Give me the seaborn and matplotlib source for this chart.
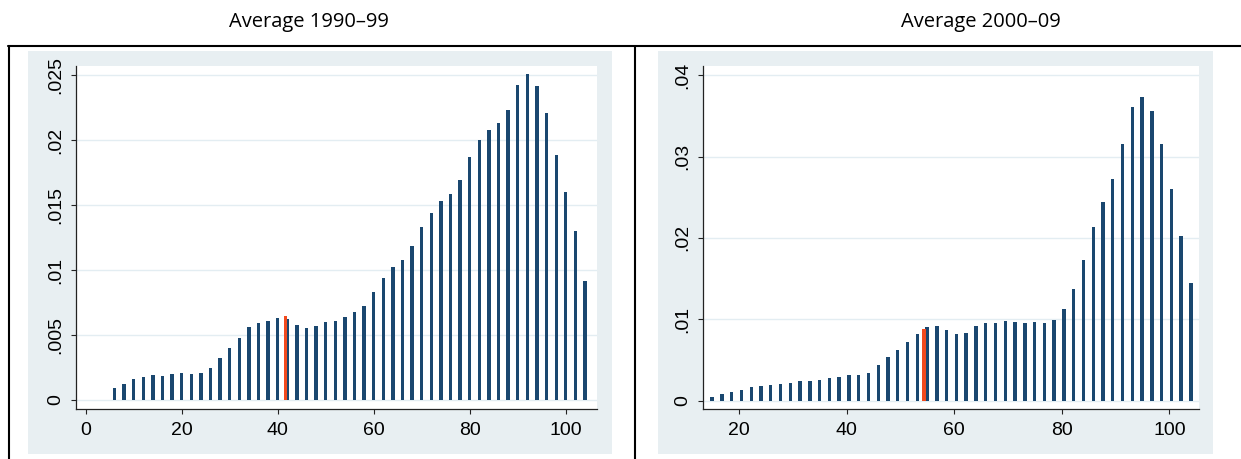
import numpy as np
import pandas as pd
import matplotlib
matplotlib.use("Agg")
import matplotlib.pyplot as plt
from matplotlib.patches import Rectangle
from matplotlib.lines import Line2D
import seaborn as sns

# ---------------- data ----------------
titles = ["Average 1990\u201399", "Average 2000\u201309"]

left_x = [6, 8, 10, 12, 14, 16, 18, 20, 22, 24, 26, 28, 30, 32, 34, 36, 38, 40, 42, 44,
          46, 48, 50, 52, 54, 56, 58, 60, 62, 64, 66, 68, 70, 72, 74, 76, 78, 80, 82, 84,
          86, 88, 90, 92, 94, 96, 98, 100, 102, 104]
left_y = [0.00095, 0.00123, 0.00159, 0.00179, 0.00192, 0.00187, 0.00203, 0.00210, 0.00197, 0.00205,
          0.00244, 0.00323, 0.00403, 0.00474, 0.00559, 0.00590, 0.00610, 0.00633, 0.00623, 0.00580,
          0.00556, 0.00569, 0.00602, 0.00605, 0.00638, 0.00674, 0.00726, 0.00831, 0.00936, 0.01023,
          0.01077, 0.01187, 0.01328, 0.01436, 0.01531, 0.01587, 0.01695, 0.01869, 0.02003, 0.02077,
          0.02128, 0.02233, 0.02423, 0.02505, 0.02415, 0.02210, 0.01885, 0.01597, 0.01302, 0.00918]
left_mark_x = [41.6]
left_mark_y = [0.00644]
left_yticks = [0, 0.005, 0.01, 0.015, 0.02, 0.025]
left_yticklabels = ["0", ".005", ".01", ".015", ".02", ".025"]
left_xticks = [0, 20, 40, 60, 80, 100]

right_x = [15.0, 16.82, 18.63, 20.45, 22.27, 24.08, 25.90, 27.71, 29.53, 31.35,
           33.16, 34.98, 36.80, 38.61, 40.43, 42.24, 44.06, 45.88, 47.69, 49.51,
           51.33, 53.14, 54.96, 56.78, 58.59, 60.41, 62.22, 64.04, 65.86, 67.67,
           69.49, 71.31, 73.12, 74.94, 76.76, 78.57, 80.39, 82.20, 84.02, 85.84,
           87.65, 89.47, 91.29, 93.10, 94.92, 96.73, 98.55, 100.37, 102.18, 104.0]
right_y = [0.00049, 0.00078, 0.00110, 0.00135, 0.00164, 0.00176, 0.00197, 0.00209, 0.00221, 0.00242,
           0.00238, 0.00254, 0.00283, 0.00295, 0.00316, 0.00312, 0.00344, 0.00439, 0.00540, 0.00623,
           0.00725, 0.00820, 0.00909, 0.00918, 0.00869, 0.00820, 0.00828, 0.00914, 0.00958, 0.00955,
           0.00983, 0.00970, 0.00955, 0.00963, 0.00958, 0.00995, 0.01123, 0.01376, 0.01725, 0.02134,
           0.02445, 0.02720, 0.03154, 0.03612, 0.03735, 0.03563, 0.03150, 0.02600, 0.02027, 0.01442]
right_mark_x = [54.4]
right_mark_y = [0.00885]
right_yticks = [0, 0.01, 0.02, 0.03, 0.04]
right_yticklabels = ["0", ".01", ".02", ".03", ".04"]
right_xticks = [20, 40, 60, 80, 100]

# ---------------- style ----------------
sns.set_style("white")
plt.rcParams["font.family"] = ["Liberation Sans", "DejaVu Sans"]

BAR = "#1a476f"
MARK = "#f24a1e"
REGION = "#e8eff2"
GRID = "#e3edf2"

W, H = 1241, 459
fig = plt.figure(figsize=(W / 100, H / 100), dpi=100, facecolor="white")


def fx(px):
    return px / W


def fy(py):
    return 1 - py / H


# graph region backgrounds
for x0, x1 in [(28, 612), (658, 1213)]:
    fig.patches.append(Rectangle((fx(x0), fy(454)), fx(x1 - x0), (454 - 51) / H,
                                 transform=fig.transFigure, facecolor=REGION,
                                 edgecolor="none", zorder=-5))

# black frame lines
lw = 1.5
fig.lines.append(Line2D([fx(8), 1.0], [fy(45.5), fy(45.5)], transform=fig.transFigure,
                        color="black", lw=lw, zorder=-4))
fig.lines.append(Line2D([fx(8.7), fx(8.7)], [fy(45.5), 0], transform=fig.transFigure,
                        color="black", lw=lw, zorder=-4))
fig.lines.append(Line2D([fx(635), fx(635)], [fy(45.5), 0], transform=fig.transFigure,
                        color="black", lw=lw, zorder=-4))

# titles
fig.text(fx(309), fy(22), titles[0], ha="center", va="center", fontsize=14.5,
         family=["Open Sans", "DejaVu Sans"], color="black")
fig.text(fx(981), fy(22), titles[1], ha="center", va="center", fontsize=14.5,
         family=["Open Sans", "DejaVu Sans"], color="black")

panels = [
    dict(rect=(76, 597), x=left_x, y=left_y, mx=left_mark_x, my=left_mark_y,
         yt=left_yticks, ytl=left_yticklabels, xt=left_xticks,
         xlim=(-2.0, 106.5), ylim=(-0.00069, 0.02569), w=0.35, mw=0.7),
    dict(rect=(703, 1199), x=right_x, y=right_y, mx=right_mark_x, my=right_mark_y,
         yt=right_yticks, ytl=right_yticklabels, xt=right_xticks,
         xlim=(13.3, 105.5), ylim=(-0.00102, 0.04112), w=0.35, mw=0.62),
]

for p in panels:
    x0, x1 = p["rect"]
    ax = fig.add_axes([fx(x0), fy(409), fx(x1 - x0), (409 - 66) / H])
    ax.set_zorder(1)
    ax.set_facecolor("white")
    df = pd.DataFrame({"x": p["x"], "y": p["y"]})
    sns.barplot(data=df, x="x", y="y", native_scale=True, width=p["w"],
                color=BAR, saturation=1, errorbar=None, linewidth=0, ax=ax, zorder=3)
    dm = pd.DataFrame({"x": p["mx"], "y": p["my"]})
    sns.barplot(data=dm, x="x", y="y", native_scale=True, width=p["mw"],
                color=MARK, saturation=1, errorbar=None, linewidth=0, ax=ax, zorder=4)
    ax.set_xlim(*p["xlim"])
    ax.set_ylim(*p["ylim"])
    ax.set_xticks(p["xt"])
    ax.set_xticklabels([str(t) for t in p["xt"]])
    ax.set_yticks(p["yt"])
    ax.set_yticklabels(p["ytl"], rotation=90, va="center", ha="right")
    for t in p["yt"]:
        ax.axhline(t, color=GRID, lw=1.0, zorder=1)
    ax.set_xlabel("")
    ax.set_ylabel("")
    for s in ["top", "right"]:
        ax.spines[s].set_visible(False)
    for s in ["left", "bottom"]:
        ax.spines[s].set_color("#222222")
        ax.spines[s].set_linewidth(0.9)
    ax.tick_params(axis="both", direction="out", length=3.6, width=0.8, color="#222222",
                   labelsize=14, labelcolor="black")
    ax.tick_params(axis="x", pad=6, bottom=True)
    ax.tick_params(axis="y", pad=5, left=True)
    ax.grid(False)

fig.savefig("out.png", dpi=100, facecolor="white")
